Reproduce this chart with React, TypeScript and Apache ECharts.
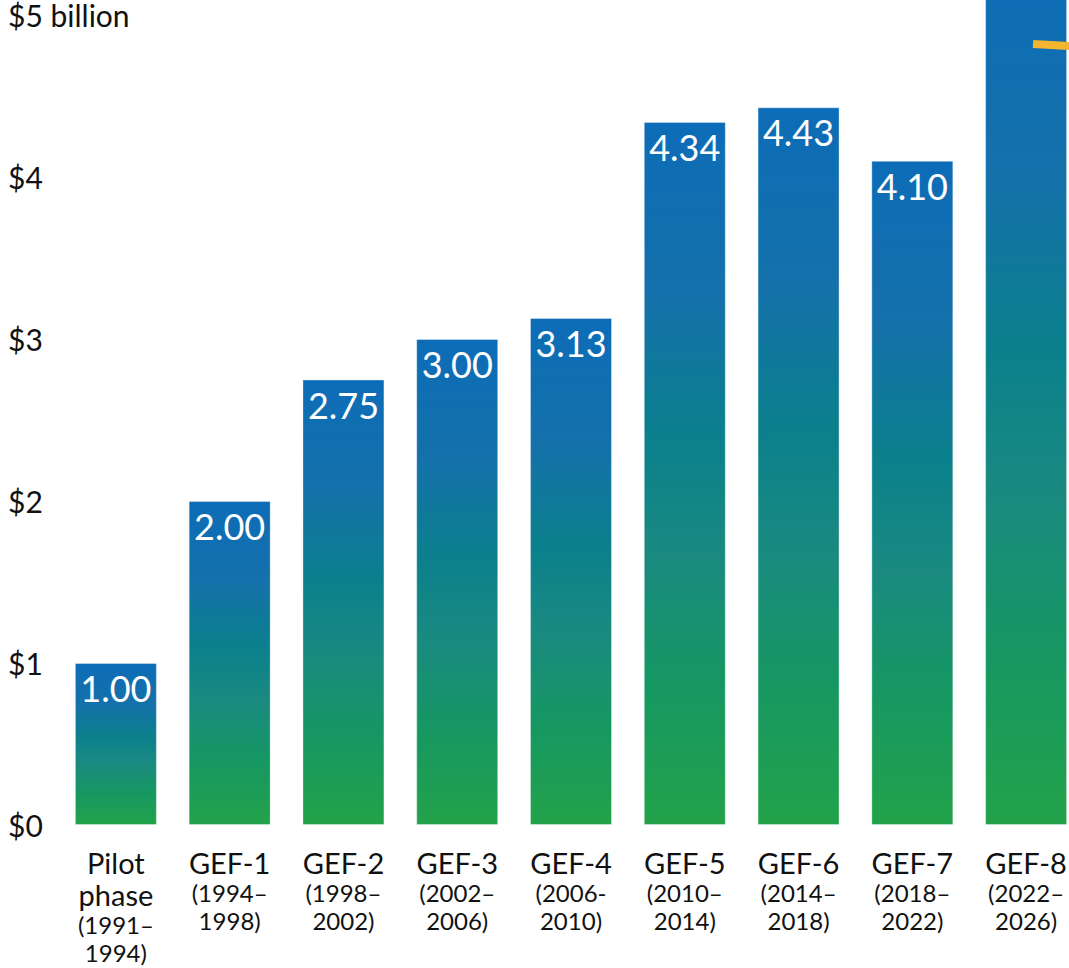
import React, { useEffect, useRef } from "react";
import * as echarts from "echarts";

const phases = ["Pilot\nphase", "GEF-1", "GEF-2", "GEF-3", "GEF-4", "GEF-5", "GEF-6", "GEF-7", "GEF-8"];
const periods = ["(1991–\n1994)", "(1994–\n1998)", "(1998–\n2002)", "(2002–\n2006)", "(2006-\n2010)", "(2010–\n2014)", "(2014–\n2018)", "(2018–\n2022)", "(2022–\n2026)"];
const values = [1.0, 2.0, 2.75, 3.0, 3.13, 4.34, 4.43, 4.1, 5.33];
const yTicks = ["$0", "$1", "$2", "$3", "$4", "$5 billion"];

export default function App() {
  const ref = useRef<HTMLDivElement>(null);
  useEffect(() => {
    document.body.style.margin = "0";
    document.body.style.overflow = "hidden";
    const chart = echarts.init(ref.current!, null, { renderer: "svg" });
    const font = "Lato, 'Open Sans', sans-serif";
    chart.setOption({
      animation: false,
      grid: { left: 59, right: 0, top: 13, bottom: 143, containLabel: false },
      xAxis: {
        type: "category",
        data: phases.map((p, i) => p + "|" + periods[i]),
        axisLine: { show: false },
        axisTick: { show: false },
        axisLabel: {
          interval: 0,
          margin: 21,
          formatter: (v: string) => {
            const [p, y] = v.split("|");
            const pl = p.split("\n").map((s) => "{a|" + s + "}").join("\n");
            const yl = y.split("\n").map((s) => "{b|" + s + "}").join("\n");
            return pl + "\n" + yl;
          },
          rich: {
            a: { fontSize: 29, fontFamily: font, color: "#111", lineHeight: 32 },
            b: { fontSize: 24, fontFamily: font, color: "#111", lineHeight: 28 },
          },
        },
      },
      yAxis: {
        type: "value",
        min: 0,
        max: 5,
        interval: 1,
        splitLine: { show: false },
        axisLine: { show: false },
        axisTick: { show: false },
        axisLabel: {
          align: "left",
          margin: 51,
          verticalAlign: "middle",
          lineHeight: 14,
          padding: [14, 0, 0, 0],
          fontSize: 30,
          fontFamily: font,
          color: "#111",
          formatter: (v: number) => yTicks[Math.round(v)],
        },
      },
      series: [
        {
          type: "bar",
          data: values.map((v, i) =>
            i === values.length - 1 ? { value: v, label: { show: false } } : v
          ),
          clip: false,
          barWidth: 82,
          itemStyle: {
            color: new echarts.graphic.LinearGradient(0, 0, 0, 1, [
              { offset: 0, color: "#0d6cb7" },
              { offset: 0.25, color: "#1471aa" },
              { offset: 0.45, color: "#0b808c" },
              { offset: 0.62, color: "#1a8a80" },
              { offset: 0.8, color: "#169762" },
              { offset: 1, color: "#23a24a" },
            ]),
            borderColor: "rgba(255,255,255,0.35)",
            borderWidth: 1,
          },
          label: {
            show: true,
            position: "insideTop",
            distance: 7,
            color: "#fff",
            fontSize: 36,
            fontFamily: font,
            formatter: (p: any) => p.value.toFixed(2),
          },
        },
      ],
      graphic: [
        {
          type: "line",
          z: 100,
          shape: { x1: 1033, y1: 44, x2: 1085, y2: 47 },
          style: { stroke: "#f5b52e", lineWidth: 8 },
        },
      ],
    });
    return () => chart.dispose();
  }, []);
  return <div ref={ref} style={{ width: 1083, height: 968 }} />;
}
